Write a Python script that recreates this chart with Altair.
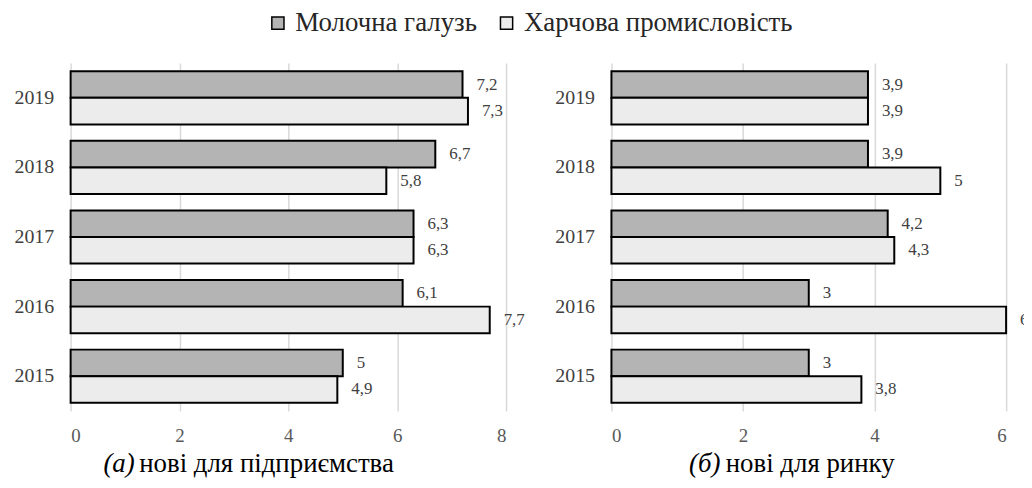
import altair as alt
import pandas as pd

years = ["2019", "2018", "2017", "2016", "2015"]
series = ["Молочна галузь", "Харчова промисловість"]

a_dairy = [7.2, 6.7, 6.3, 6.1, 5.0]
a_food = [7.3, 5.8, 6.3, 7.7, 4.9]
b_dairy = [3.9, 3.9, 4.2, 3.0, 3.0]
b_food = [3.9, 5.0, 4.3, 6.0, 3.8]

a_ticks = [0, 2, 4, 6, 8]
b_ticks = [0, 2, 4, 6]

FONT = "Times New Roman, Liberation Serif, DejaVu Serif, serif"


def fmt(v):
    s = ("%g" % v).replace(".", ",")
    return s


def make_df(dairy, food):
    rows = []
    for y, d, f in zip(years, dairy, food):
        rows.append({"year": y, "series": series[0], "value": d, "label": fmt(d)})
        rows.append({"year": y, "series": series[1], "value": f, "label": fmt(f)})
    return pd.DataFrame(rows)


fill_scale = alt.Scale(domain=series, range=["#b4b4b4", "#ececec"])


def panel(df, ticks, width, span, clip, cap_italic, cap_text, cap_x, cap_x2):
    base = alt.Chart(df)
    x = alt.X(
        "value:Q",
        scale=alt.Scale(domain=[ticks[0], ticks[-1]], nice=False, range=[0, span]),
        axis=alt.Axis(
            values=ticks, format="d", title=None, grid=True, gridColor="#d9d9d9",
            gridWidth=1.5, domain=False, ticks=False, labelFontSize=19,
            labelPadding=16, labelColor="#595959", labelFont=FONT,
        ),
    )
    y = alt.Y(
        "year:N", sort=years,
        scale=alt.Scale(paddingInner=0.236, paddingOuter=0.118),
        axis=alt.Axis(title=None, domain=False, ticks=False, labelFontSize=20,
                      labelPadding=17, labelColor="#404040", labelFont=FONT),
    )
    yo = alt.YOffset("series:N", sort=series)
    bars = base.mark_bar(stroke="black", strokeWidth=2).encode(
        x=x, y=y, yOffset=yo,
        fill=alt.Fill(
            "series:N", scale=fill_scale, sort=series,
            legend=alt.Legend(
                title=None, orient="none", direction="horizontal",
                legendX=195, legendY=-54, symbolType="square", symbolSize=150,
                symbolStrokeColor="black", symbolStrokeWidth=1.5,
                labelFontSize=27, labelFont=FONT, labelColor="#262626",
                columnPadding=16, labelOffset=4, labelLimit=500,
            ),
        ),
    )
    labels = base.mark_text(
        align="left", baseline="middle", dx=14, fontSize=17, font=FONT,
        color="#404040", clip=clip,
    ).encode(x="value:Q", y=alt.Y("year:N", sort=years), yOffset=yo, text="label:N")
    cap1 = alt.Chart(pd.DataFrame({"t": [cap_italic]})).mark_text(
        align="left", baseline="middle", fontSize=27, font=FONT,
        fontStyle="italic", color="black",
    ).encode(x=alt.value(cap_x), y=alt.value(403), text="t:N")
    cap2 = alt.Chart(pd.DataFrame({"t": [cap_text]})).mark_text(
        align="left", baseline="middle", fontSize=27, font=FONT, color="black",
    ).encode(x=alt.value(cap_x2), y=alt.value(403), text="t:N")
    return alt.layer(bars, labels, cap1, cap2).properties(width=width, height=350)


left = panel(make_df(a_dairy, a_food), a_ticks, 438, 438, False,
             "(а)", "нові для підприємства", 33, 69)
right = panel(make_df(b_dairy, b_food), b_ticks, 415, 397, True,
              "(б)", "нові для ринку", 78, 115)

chart = alt.hconcat(left, right, spacing=106, bounds="flush").properties(
    padding={"left": 6, "top": 0, "right": 0, "bottom": 0}
).configure_view(stroke=None)

chart.save("out.html", embed_options={"renderer": "svg", "actions": False})
